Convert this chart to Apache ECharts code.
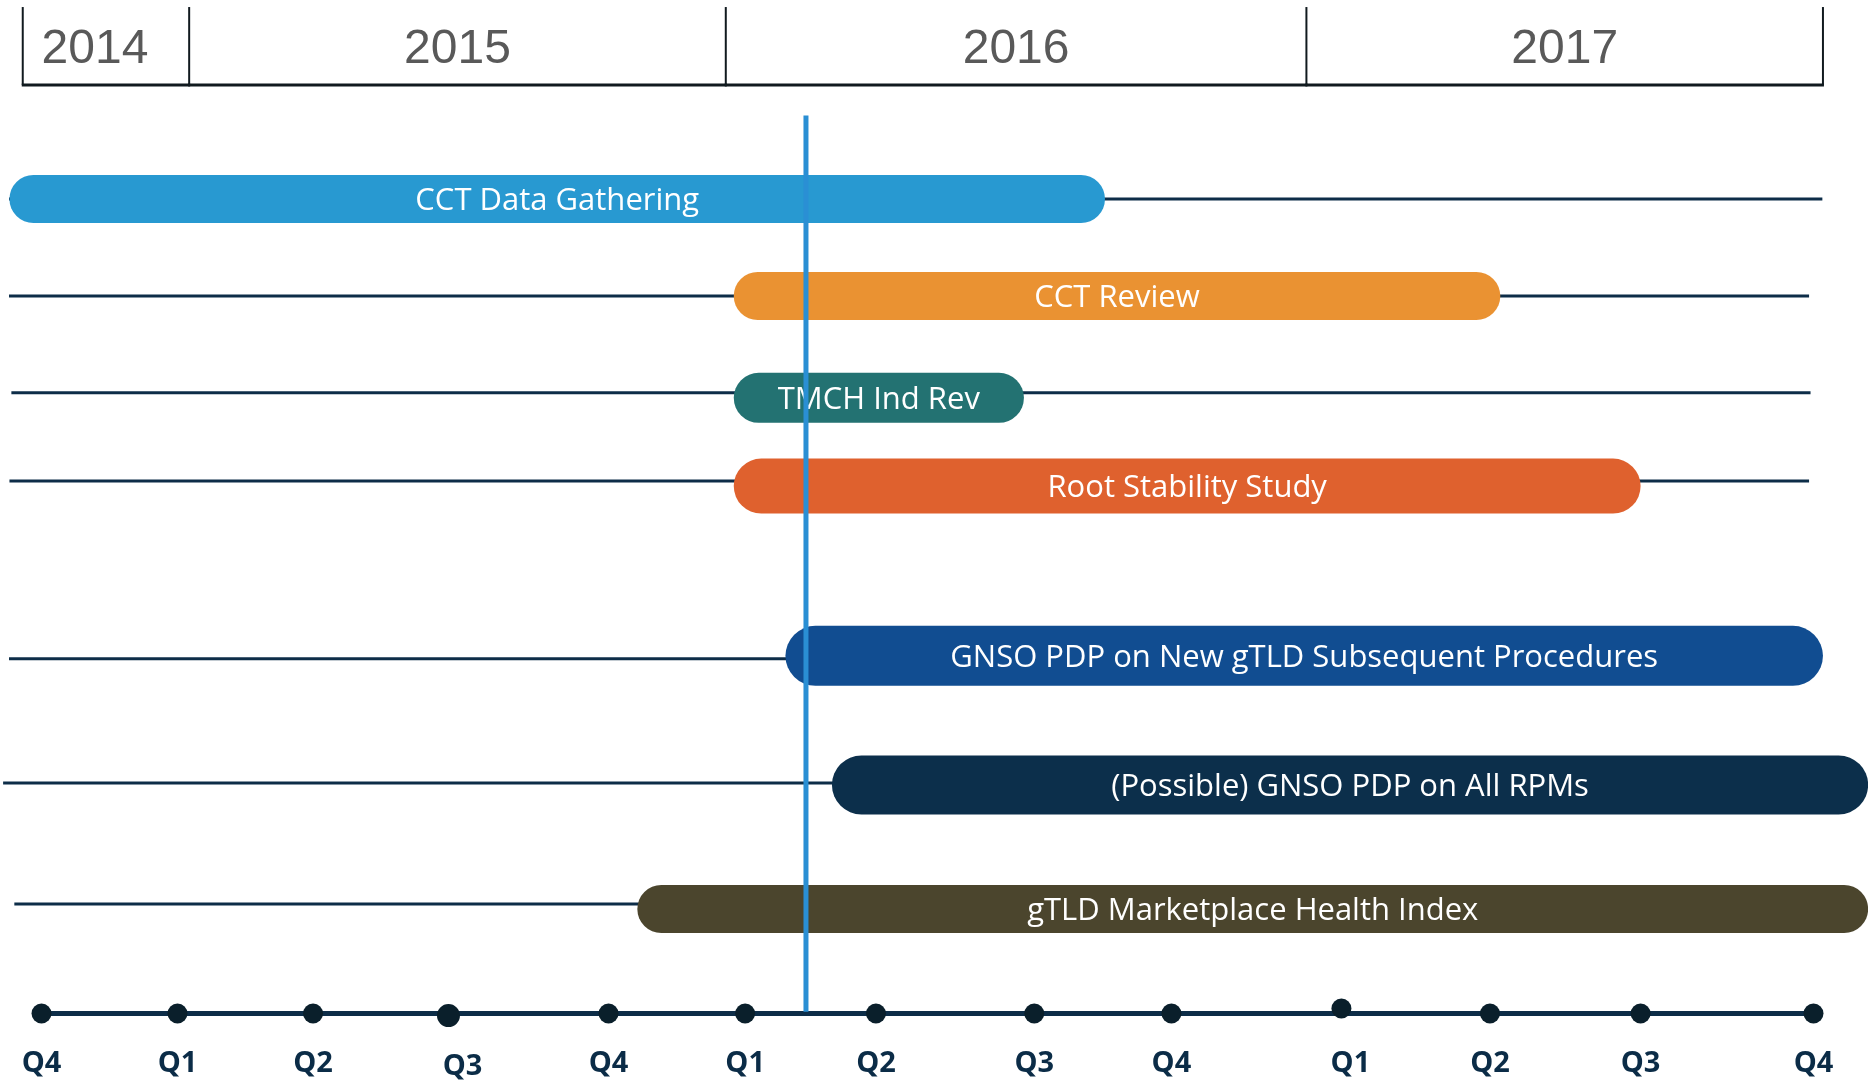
<!DOCTYPE html>
<html><head><meta charset="utf-8">
<script src="https://cdn.jsdelivr.net/npm/echarts/dist/echarts.min.js"></script>
<style>html,body{margin:0;padding:0;background:#fff;}#c{width:1868px;height:1080px;}</style>
</head><body><div id="c"></div>
<script>
// ---------- DATA (x in timeline quarter units: Q4 2014 = 0 ... Q4 2017 = 12) ----------
const years = ['2014', '2015', '2016', '2017'];
const yearBounds = [-0.127, 1.0, 4.634, 8.566, 12.064];
const quarterLabels = ['Q4','Q1','Q2','Q3','Q4','Q1','Q2','Q3','Q4','Q1','Q2','Q3','Q4'];
const quarterPos = [0, 0.921, 1.839, 2.756, 3.840, 4.765, 5.651, 6.723, 7.652, 8.803, 9.809, 10.829, 12.0];
const tasks = ['CCT Data Gathering', 'CCT Review', 'TMCH Ind Rev', 'Root Stability Study',
  'GNSO PDP on New gTLD Subsequent Procedures', '(Possible) GNSO PDP on All RPMs', 'gTLD Marketplace Health Index'];
const taskStart = [-0.217, 4.688, 4.688, 4.688, 5.038, 5.353, 4.035];
const taskEnd = [7.202, 9.879, 6.653, 10.829, 12.064, 12.37, 12.37];
const todayPos = 5.177;

// ---------- LAYOUT / STYLE ----------
const LANE = [0, 1, 2.05, 2.96, 4.71, 6.04, 7.32];
const LINE_DY = [0, 0, -5, -5, 3, -2, -5];
const LINE_START = [-0.22, -0.22, -0.204, -0.217, -0.22, -0.26, -0.184];
const LINE_END = [12.06, 11.97, 11.98, 11.97, 11.97, 11.0, 11.0];
const BAR_H = [48, 48, 50, 55, 60, 59, 48];
const COLORS = ['#2899d1', '#ea9232', '#237272', '#df612e', '#114d91', '#0c2f4b', '#4b452d'];
const HEADER_TOP = -1.979, HEADER_BOTTOM = -1.175, YEAR_LABEL = -1.535;
const AXIS_LANE = 8.397, QLABEL_LANE = 8.91, TODAY_TOP = -0.86, TODAY_BOTTOM = 8.38;
const YEAR_DX = [-11, 0, 0, 0];
const QDX = [0,0,0,14,0,0,0,0,0,9,0,0,0];
const QR = [10,10,10,11.5,10,10,10,10,10,10,10,10,10];
const QDY = [0,0,0,2,0,0,0,0,0,-5,0,0,0];
const NAVY = '#0d2d48';

const chart = echarts.init(document.getElementById('c'), null, {renderer: 'canvas'});
const option = {
  animation: false,
  backgroundColor: '#ffffff',
  grid: {left: 41.5, right: 54.5, top: 199, bottom: 105},
  xAxis: {type: 'value', min: 0, max: 12, show: false},
  yAxis: {type: 'value', min: 0, max: 8, inverse: true, show: false},
  series: [
    { // lane lines
      type: 'custom', clip: false, z: 1,
      data: tasks.map((t, i) => [LINE_START[i], LINE_END[i], i]),
      renderItem: (params, api) => {
        const i = api.value(2);
        const a = api.coord([api.value(0), LANE[i]]);
        const b = api.coord([api.value(1), LANE[i]]);
        return {type: 'line', shape: {x1: a[0], y1: a[1] + LINE_DY[i], x2: b[0], y2: b[1] + LINE_DY[i]},
          style: {stroke: NAVY, lineWidth: 3}};
      }
    },
    { // task bars
      type: 'custom', clip: false, z: 2,
      data: tasks.map((t, i) => [taskStart[i], taskEnd[i], i, t]),
      renderItem: (params, api) => {
        const i = api.value(2);
        const a = api.coord([api.value(0), LANE[i]]);
        const b = api.coord([api.value(1), LANE[i]]);
        const h = BAR_H[i];
        return {type: 'group', children: [
          {type: 'rect', shape: {x: a[0], y: a[1] - h / 2, width: b[0] - a[0], height: h, r: h / 2},
            style: {fill: COLORS[i]}},
          {type: 'text', x: (a[0] + b[0]) / 2, y: a[1] + 2,
            style: {text: tasks[i], fill: '#ffffff', font: '31px "Open Sans"', align: 'center', verticalAlign: 'middle'}}
        ]};
      }
    },
    { // year header
      type: 'custom', clip: false, z: 3,
      data: years.map((y, i) => [yearBounds[i], yearBounds[i + 1], i]),
      renderItem: (params, api) => {
        const i = api.value(2);
        const s = api.value(0), e = api.value(1);
        const t0 = api.coord([s, HEADER_TOP]), b0 = api.coord([s, HEADER_BOTTOM]);
        const t1 = api.coord([e, HEADER_TOP]), b1 = api.coord([e, HEADER_BOTTOM]);
        const lab = api.coord([(s + e) / 2, YEAR_LABEL]);
        const ch = [
          {type: 'line', shape: {x1: t0[0], y1: t0[1], x2: b0[0], y2: b0[1]}, style: {stroke: '#111a1f', lineWidth: 2}},
          {type: 'line', shape: {x1: b0[0] - 1, y1: b0[1], x2: b1[0] + 1, y2: b1[1]}, style: {stroke: '#111a1f', lineWidth: 3}},
          {type: 'text', x: lab[0] + YEAR_DX[i], y: lab[1],
            style: {text: years[i], fill: '#595959', font: '48px "Liberation Sans"', align: 'center', verticalAlign: 'middle'}}
        ];
        if (i === years.length - 1) {
          ch.push({type: 'line', shape: {x1: t1[0], y1: t1[1], x2: b1[0], y2: b1[1]}, style: {stroke: '#111a1f', lineWidth: 2}});
        }
        return {type: 'group', children: ch};
      }
    },
    { // quarter axis line
      type: 'custom', clip: false, z: 3,
      data: [[quarterPos[0], quarterPos[quarterPos.length - 1]]],
      renderItem: (params, api) => {
        const a = api.coord([api.value(0), AXIS_LANE]);
        const b = api.coord([api.value(1), AXIS_LANE]);
        return {type: 'line', shape: {x1: a[0], y1: a[1], x2: b[0], y2: b[1]}, style: {stroke: NAVY, lineWidth: 5}};
      }
    },
    { // quarter dots + labels
      type: 'custom', clip: false, z: 4,
      data: quarterPos.map((p, i) => [p, i]),
      renderItem: (params, api) => {
        const i = api.value(1);
        const c = api.coord([api.value(0), AXIS_LANE]);
        const l = api.coord([api.value(0), QLABEL_LANE]);
        return {type: 'group', children: [
          {type: 'circle', shape: {cx: c[0], cy: c[1] + QDY[i], r: QR[i]}, style: {fill: '#0a1f2b'}},
          {type: 'text', x: l[0] + QDX[i], y: l[1] + (i === 3 ? 3 : 0),
            style: {text: quarterLabels[i], fill: '#0b2c47', font: 'bold 29px "Open Sans"', align: 'center', verticalAlign: 'middle'}}
        ]};
      }
    },
    { // today marker
      type: 'custom', clip: false, z: 10,
      data: [[todayPos]],
      renderItem: (params, api) => {
        const a = api.coord([api.value(0), TODAY_TOP]);
        const b = api.coord([api.value(0), TODAY_BOTTOM]);
        return {type: 'line', shape: {x1: a[0], y1: a[1], x2: b[0], y2: b[1]}, style: {stroke: '#2a8fd4', lineWidth: 5}};
      }
    }
  ]
};
chart.setOption(option);
</script>
</body></html>
